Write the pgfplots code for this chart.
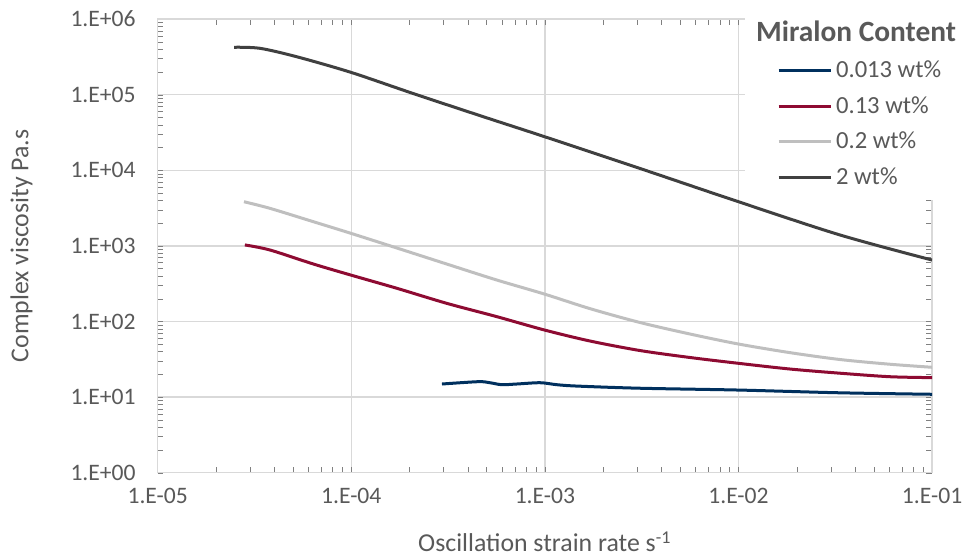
\documentclass[border=0pt]{standalone}
\usepackage{pgfplots}
\pgfplotsset{compat=1.18}
\usepackage{fontspec}
\setmainfont{Carlito}
\definecolor{gridgray}{HTML}{D9D9D9}
\definecolor{textgray}{HTML}{595959}
\definecolor{navy}{HTML}{00305E}
\definecolor{wine}{HTML}{8E0B32}
\definecolor{lightgr}{HTML}{BFBFBF}
\definecolor{darkgr}{HTML}{404040}

\begin{document}
\begin{tikzpicture}
\useasboundingbox (-78.85pt,-42.65pt) rectangle (407.15pt,236.35pt);
\begin{axis}[
    scale only axis, width=387.2pt, height=226.8pt,
    xmode=log, ymode=log,
    xmin=1e-5, xmax=1e-1, ymin=1, ymax=1e6,
    xtick={1e-5,1e-4,1e-3,1e-2,1e-1},
    xticklabels={1.E-05,1.E-04,1.E-03,1.E-02,1.E-01},
    ytick={1,10,100,1000,10000,100000,1000000},
    yticklabels={1.E+00,1.E+01,1.E+02,1.E+03,1.E+04,1.E+05,1.E+06},
    minor xtick={}, minor ytick={},
    major tick length=0pt,
    grid=major, grid style={line width=0.75pt, gridgray},
    axis line style={line width=0.75pt, gridgray},
    tick label style={font=\fontsize{11.8}{14}\selectfont, text=textgray},
    xticklabel style={yshift=-4pt},
    yticklabel style={xshift=-7.5pt},
    every axis y label/.style={at={(axis description cs:-0.1757,0.5)}, rotate=90, anchor=center,
        font=\fontsize{12.9}{15}\selectfont, text=textgray},
    every axis x label/.style={at={(axis description cs:0.5,-0.152)}, anchor=center,
        font=\fontsize{12.9}{15}\selectfont, text=textgray},
    ylabel={Complex viscosity Pa.s},
    xlabel={Oscillation strain rate s\textsuperscript{-1}},
    legend style={at={(axis description cs:0.758,1.0234)}, anchor=north west,
        draw=none, fill=white, font=\fontsize{12.3}{14}\selectfont, text=textgray,
        row sep=4pt, inner xsep=16pt, inner ysep=4pt},
    legend cell align=left,
    legend image code/.code={\draw[#1] (0pt,0pt) -- (26pt,0pt);},
    every axis plot/.append style={line width=1.5pt, smooth},
]
\addlegendimage{empty legend}
\addlegendentry{\hspace*{-40pt}\fontsize{14.7}{16}\selectfont\bfseries Miralon Content\rule[-5.5pt]{0pt}{5pt}}

\addplot[navy] coordinates {
(2.94e-4,14.9)(4.53e-4,16.0)(5.20e-4,15.5)(5.98e-4,14.6)(7.15e-4,14.9)
(9.44e-4,15.5)(1.15e-3,14.6)(1.46e-3,14.0)(3.1e-3,13.1)(9.98e-3,12.4)
(3.35e-2,11.4)(1e-1,10.9)};
\addlegendentry{0.013 wt\%}

\addplot[wine] coordinates {
(2.82e-5,1030)(3.80e-5,883)(6.37e-5,576)(9.93e-5,412)(1.72e-4,275)
(3.11e-4,174)(5.64e-4,116)(9.93e-4,77.3)(1.71e-3,55.2)(3.10e-3,41.3)
(5.62e-3,33.4)(9.98e-3,28.0)(1.85e-2,23.5)(3.35e-2,20.7)(6.07e-2,18.6)(1e-1,18.1)};
\addlegendentry{0.13 wt\%}

\addplot[lightgr] coordinates {
(2.79e-5,3840)(3.80e-5,3140)(6.37e-5,2090)(9.93e-5,1470)(1.72e-4,938)
(3.11e-4,576)(5.64e-4,354)(9.93e-4,231)(1.71e-3,148)(3.10e-3,97)
(5.62e-3,68.3)(9.98e-3,50.4)(1.85e-2,38.7)(3.35e-2,31.4)(6.07e-2,27.2)(1e-1,24.8)};
\addlegendentry{0.2 wt\%}

\addplot[darkgr] coordinates {
(2.48e-5,424000)(3.37e-5,411000)(5.22e-5,318000)(9.93e-5,198000)(2.08e-4,104000)
(4.79e-4,51300)(9.89e-4,28000)(3.10e-3,10570)(9.98e-3,3845)(3.35e-2,1393)(1e-1,650)};
\addlegendentry{2 wt\%}
\end{axis}
\end{tikzpicture}
\end{document}
